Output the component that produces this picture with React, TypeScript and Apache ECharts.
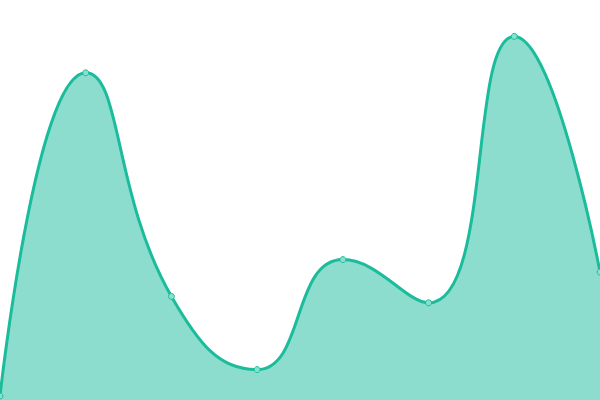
import React, { useEffect, useRef } from "react";
import * as echarts from "echarts";

const categories = ["A", "B", "C", "D", "E", "F", "G", "H"];
const values = [1, 81.8, 25.9, 7.6, 35.1, 24.3, 90.9, 32];

export default function App() {
  const ref = useRef<HTMLDivElement>(null);
  useEffect(() => {
    if (!ref.current) return;
    const chart = echarts.init(ref.current, undefined, { renderer: "svg" });
    chart.setOption({
      animation: false,
      grid: { left: 0, right: 0, top: 0, bottom: 0 },
      xAxis: {
        type: "category",
        data: categories,
        boundaryGap: false,
        show: false,
      },
      yAxis: { type: "value", min: 0, max: 100, show: false },
      series: [
        {
          type: "line",
          data: values,
          smooth: true,
          symbol: "circle",
          symbolSize: 6,
          showSymbol: true,
          lineStyle: { color: "#1abc9c", width: 3 },
          itemStyle: { color: "#8ae0cf", borderColor: "#1abc9c", borderWidth: 1 },
          areaStyle: { color: "#1abc9c", opacity: 0.5 },
        },
      ],
    });
    return () => chart.dispose();
  }, []);
  return (
    <div
      ref={ref}
      style={{ position: "fixed", left: 0, top: 0, width: 600, height: 400 }}
    />
  );
}
